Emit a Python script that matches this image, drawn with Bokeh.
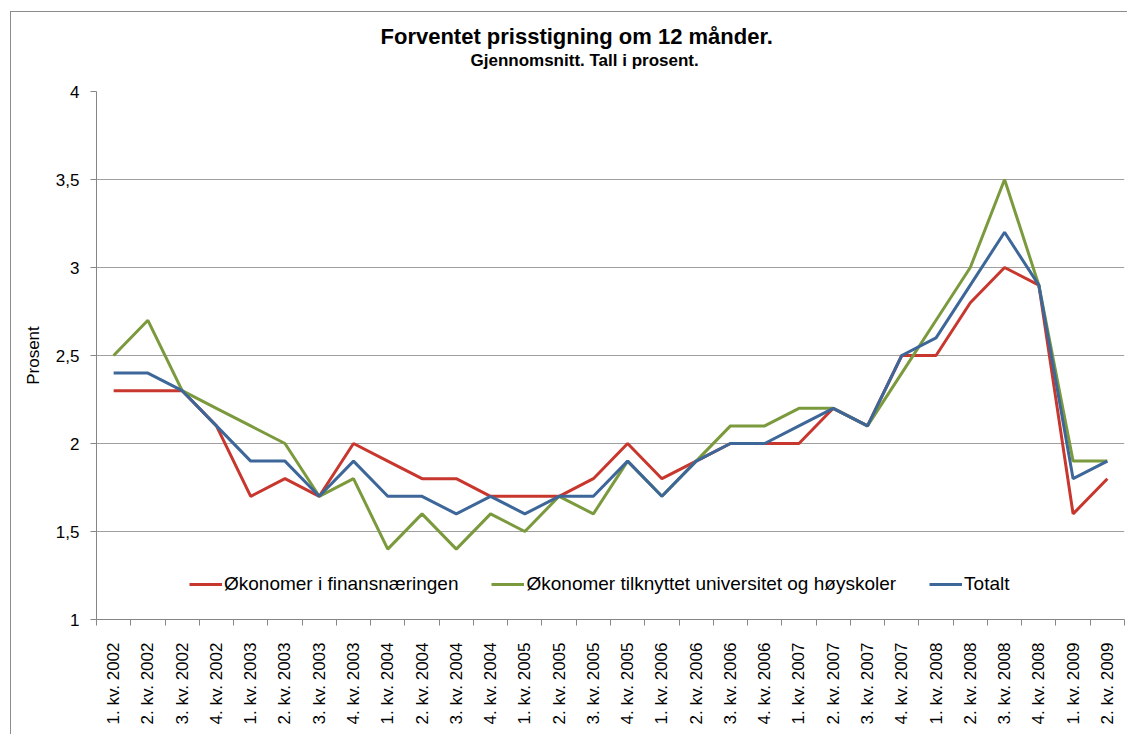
import math
from bokeh.plotting import figure
from bokeh.models import (Range1d, FixedTicker, Legend, LegendItem, Title)
from bokeh.embed import file_html
from bokeh.resources import INLINE

categories = [
    "1. kv. 2002", "2. kv. 2002", "3. kv. 2002", "4. kv. 2002",
    "1. kv. 2003", "2. kv. 2003", "3. kv. 2003", "4. kv. 2003",
    "1. kv. 2004", "2. kv. 2004", "3. kv. 2004", "4. kv. 2004",
    "1. kv. 2005", "2. kv. 2005", "3. kv. 2005", "4. kv. 2005",
    "1. kv. 2006", "2. kv. 2006", "3. kv. 2006", "4. kv. 2006",
    "1. kv. 2007", "2. kv. 2007", "3. kv. 2007", "4. kv. 2007",
    "1. kv. 2008", "2. kv. 2008", "3. kv. 2008", "4. kv. 2008",
    "1. kv. 2009", "2. kv. 2009",
]
finans = [2.3, 2.3, 2.3, 2.1, 1.7, 1.8, 1.7, 2.0, 1.9, 1.8, 1.8, 1.7, 1.7, 1.7, 1.8,
          2.0, 1.8, 1.9, 2.0, 2.0, 2.0, 2.2, 2.1, 2.5, 2.5, 2.8, 3.0, 2.9, 1.6, 1.8]
universitet = [2.5, 2.7, 2.3, 2.2, 2.1, 2.0, 1.7, 1.8, 1.4, 1.6, 1.4, 1.6, 1.5, 1.7, 1.6,
               1.9, 1.7, 1.9, 2.1, 2.1, 2.2, 2.2, 2.1, 2.4, 2.7, 3.0, 3.5, 2.9, 1.9, 1.9]
totalt = [2.4, 2.4, 2.3, 2.1, 1.9, 1.9, 1.7, 1.9, 1.7, 1.7, 1.6, 1.7, 1.6, 1.7, 1.7,
          1.9, 1.7, 1.9, 2.0, 2.0, 2.1, 2.2, 2.1, 2.5, 2.6, 2.9, 3.2, 2.9, 1.8, 1.9]
series_names = ["Økonomer i finansnæringen",
                "Økonomer tilknyttet universitet og høyskoler",
                "Totalt"]
y_ticks = [1, 1.5, 2, 2.5, 3, 3.5, 4]
y_tick_labels = ["1", "1,5", "2", "2,5", "3", "3,5", "4"]
title_text = "Forventet prisstigning om 12 månder."
subtitle_text = "Gjennomsnitt. Tall i prosent."

colors = ["#C8372E", "#7B9A3D", "#3D6699"]
FONT = "Liberation Sans"

n = len(categories)
xs = [i + 0.5 for i in range(n)]

p = figure(width=1117, height=723, output_backend="svg", toolbar_location=None,
           x_range=Range1d(0, n), y_range=Range1d(1, 4),
           min_border_left=85, min_border_right=4, min_border_top=79,
           min_border_bottom=116, title=title_text)
p.styles = {"margin-left": "10px", "margin-top": "11px",
            "border-left": "1px solid #8C8C8C", "border-top": "1px solid #8C8C8C"}
p.outline_line_color = None
p.background_fill_color = "white"
p.border_fill_color = "white"

# main title (outermost)
p.title.text_font = FONT
p.title.text_font_size = "22px"
p.title.text_font_style = "bold"
p.title.text_color = "#000000"
p.title.align = "left"
p.title.offset = 284
p.title.standoff = 0

# invisible spacer between subtitle and plot area (innermost)
spacer = Title(text=" ", text_font=FONT, text_font_size="10px", standoff=9)
p.add_layout(spacer, "above")
sub = Title(text=subtitle_text, text_font=FONT, text_color="#000000",
            text_font_size="17px", text_font_style="bold", align="left",
            offset=374, standoff=0)
p.add_layout(sub, "above")

# grid
p.xgrid.grid_line_color = None
p.ygrid.grid_line_color = "#A0A0A0"
p.ygrid.grid_line_width = 1

# y axis
p.yaxis.ticker = FixedTicker(ticks=y_ticks)
p.yaxis.major_label_overrides = {t: l for t, l in zip(y_ticks, y_tick_labels)}
p.yaxis.axis_line_color = "#868686"
p.yaxis.major_tick_line_color = "#868686"
p.yaxis.major_tick_out = 6
p.yaxis.major_tick_in = 0
p.yaxis.minor_tick_line_color = None
p.yaxis.major_label_standoff = 11
p.yaxis.major_label_text_font = FONT
p.yaxis.major_label_text_font_size = "17px"
p.yaxis.major_label_text_color = "#000000"
p.yaxis.axis_label = "Prosent"
p.yaxis.axis_label_text_font = FONT
p.yaxis.axis_label_text_font_size = "17px"
p.yaxis.axis_label_text_font_style = "normal"
p.yaxis.axis_label_text_color = "#000000"
p.yaxis.axis_label_standoff = 10

# x axis: labels at centres, ticks at boundaries
p.xaxis.ticker = FixedTicker(ticks=xs, minor_ticks=list(range(n + 1)))
p.xaxis.major_label_overrides = {x: c for x, c in zip(xs, categories)}
p.xaxis.major_label_orientation = math.pi / 2
p.xaxis.axis_line_color = "#868686"
p.xaxis.major_tick_line_color = None
p.xaxis.major_tick_out = 0
p.xaxis.major_tick_in = 0
p.xaxis.minor_tick_line_color = "#868686"
p.xaxis.minor_tick_out = 6
p.xaxis.minor_tick_in = 0
p.xaxis.major_label_standoff = 17
p.xaxis.major_label_text_font = FONT
p.xaxis.major_label_text_font_size = "17px"
p.xaxis.major_label_text_color = "#000000"

items = []
for vals, name, col in zip([finans, universitet, totalt], series_names, colors):
    r = p.line(xs, vals, line_color=col, line_width=3)
    items.append(LegendItem(label=name, renderers=[r]))

legend = Legend(items=items, orientation="horizontal", location=(93, 24),
                glyph_width=33, glyph_height=20, label_standoff=2, spacing=33,
                padding=0, margin=0, border_line_color=None,
                background_fill_alpha=0, label_text_font=FONT,
                label_text_font_size="19px", label_text_color="#000000")
p.add_layout(legend, "center")

open("out.html", "w").write(file_html(p, INLINE))
